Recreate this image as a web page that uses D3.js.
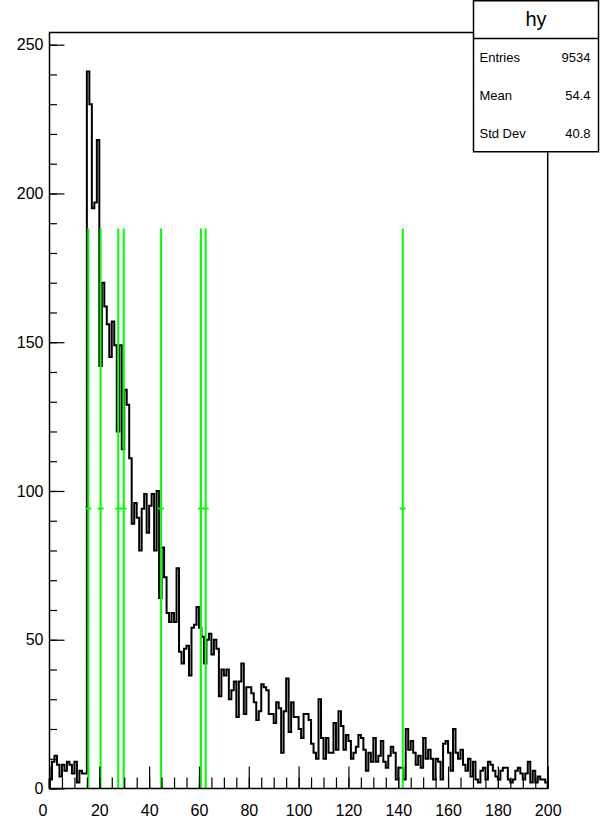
<!DOCTYPE html>
<html lang="en">
<head>
  <meta charset="UTF-8">
  <title>hy</title>
  <script src="https://d3js.org/d3.v7.min.js"></script>
  <style>
    body {
      margin: 0;
      background: #ffffff;
      font-family: "Liberation Sans", Arial, sans-serif;
    }

    .axis text {
      fill: #000;
      font-size: 16px;
    }

    .axis line {
      stroke: #000;
      stroke-width: 1.2;
    }

    .hist {
      fill: none;
      stroke: #000;
      stroke-width: 2;
    }

    .peak {
      stroke: #00ff00;
      stroke-width: 2;
    }
  </style>
</head>
<body>
  <script>
    // bin contents of hy, 200 bins of width 1 on [0, 200]
    const counts = [
      3, 9, 11, 8, 4, 8, 6, 9, 8, 5, 9, 2, 6, 5, 5,
      241, 230, 195, 197, 218, 142, 170, 162, 156, 145, 157, 149, 120, 149, 114, 134, 129, 111, 89,
      96, 91, 80, 94, 99, 86, 95, 99, 80, 100, 64, 81, 71,
      59, 56, 59, 56, 74, 46, 42, 47, 48, 38, 54, 55, 61, 54, 51, 42, 50, 52, 45, 50, 47, 31,
      40, 38, 40, 30, 33, 36, 24, 36, 42, 25, 34, 34, 32, 29, 23, 26, 35, 34, 33, 25,
      25, 22, 29, 27, 12, 26, 37, 19, 29, 24, 24, 20,
      17, 25, 25, 23, 15, 12, 10, 30, 17, 10, 17, 12, 12, 22, 13, 26, 21, 13, 18, 16,
      10, 12, 14, 18, 17, 13, 6, 12, 9, 17, 9, 11, 16, 9,
      7, 11, 14, 12, 3, 7, 7, 3, 20, 13, 16, 12, 8, 11, 7, 17, 10, 13, 10, 3,
      10, 9, 3, 15, 16, 12, 6, 20, 12, 10, 13, 8, 6, 10,
      4, 9, 3, 2, 6, 7, 3, 9, 8, 6, 4, 3, 6, 7, 7, 3, 2, 3, 6, 7,
      5, 3, 5, 9, 2, 6, 2, 4, 3, 3, 2
    ];
    const xMin = 0, xMax = 200;

    // green peak markers
    const peaksX = [15.6, 20.5, 27.6, 29.8, 44.8, 60.8, 62.7, 141.8];
    const peakY = 94.1;

    const xTicks = [0, 20, 40, 60, 80, 100, 120, 140, 160, 180, 200];
    const yTicks = [0, 50, 100, 150, 200, 250];

    const statsTitle = "hy";
    const statsNames = ["Entries", "Mean", "Std Dev"];
    const statsValues = ["9534", "54.4", "40.8"];

    const W = 608, H = 830;
    const frame = {left: 49.5, right: 547.7, top: 32.5, bottom: 788.5};
    const yMax = 254.1;

    const svg = d3.select("body").append("svg")
      .attr("width", W)
      .attr("height", H);

    svg.append("rect").attr("width", W).attr("height", H).attr("fill", "#fff");

    const x = d3.scaleLinear().domain([xMin, xMax]).range([frame.left, frame.right]);
    const y = d3.scaleLinear().domain([0, yMax]).range([frame.bottom, frame.top]);

    // histogram outline
    const binW = (xMax - xMin) / counts.length;
    const pts = [[xMin, 0]];
    counts.forEach((c, i) => {
      pts.push([xMin + i * binW, c]);
      pts.push([xMin + (i + 1) * binW, c]);
    });
    pts.push([xMax, 0]);

    svg.append("path")
      .datum(pts)
      .attr("class", "hist")
      .attr("d", d3.line().x(d => x(d[0])).y(d => y(d[1])));

    // peak lines
    const pk = svg.append("g");
    peaksX.forEach(p => {
      pk.append("line").attr("class", "peak")
        .attr("x1", x(p)).attr("x2", x(p))
        .attr("y1", y(0)).attr("y2", y(2 * peakY));
      pk.append("line").attr("class", "peak")
        .attr("x1", x(p) - 3).attr("x2", x(p) + 3)
        .attr("y1", y(peakY)).attr("y2", y(peakY))
        .attr("stroke-width", 1);
    });

    // axes
    const xMinor = d3.range(xMin, xMax + 1, 5);
    const yMinor = d3.range(0, yMax, 10);

    svg.append("g")
      .attr("class", "axis")
      .attr("transform", "translate(0," + frame.bottom + ")")
      .call(d3.axisBottom(x).tickValues(xMinor).tickSize(-11).tickFormat(""))
      .call(g => g.select(".domain").remove());

    svg.append("g")
      .attr("class", "axis")
      .attr("transform", "translate(0," + frame.bottom + ")")
      .call(d3.axisBottom(x).tickValues(xTicks).tickSize(-22).tickPadding(16))
      .call(g => g.select(".domain").remove())
      // the "0" label sits a little left of its tick, clear of the y axis 0
      .call(g => g.selectAll(".tick text").filter(d => d === 0).attr("dx", -7));

    svg.append("g")
      .attr("class", "axis")
      .attr("transform", "translate(" + frame.left + ",0)")
      .call(d3.axisLeft(y).tickValues(yMinor).tickSize(-7.5).tickFormat(""))
      .call(g => g.select(".domain").remove());

    svg.append("g")
      .attr("class", "axis")
      .attr("transform", "translate(" + frame.left + ",0)")
      .call(d3.axisLeft(y).tickValues(yTicks).tickSize(-15).tickPadding(6))
      .call(g => g.select(".domain").remove());

    // frame
    svg.append("rect")
      .attr("x", frame.left).attr("y", frame.top)
      .attr("width", frame.right - frame.left)
      .attr("height", frame.bottom - frame.top)
      .attr("fill", "none").attr("stroke", "#000").attr("stroke-width", 1.5);

    // stats box
    const box = {x: 473.5, y: 0.75, w: 125, h: 151, sep: 38.5};
    const st = svg.append("g");
    st.append("rect")
      .attr("x", box.x).attr("y", box.y).attr("width", box.w).attr("height", box.h)
      .attr("fill", "#fff").attr("stroke", "#000").attr("stroke-width", 1.5);
    st.append("line")
      .attr("x1", box.x).attr("x2", box.x + box.w)
      .attr("y1", box.sep).attr("y2", box.sep)
      .attr("stroke", "#000").attr("stroke-width", 1.5);
    st.append("text")
      .attr("x", box.x + box.w / 2).attr("y", 26)
      .attr("text-anchor", "middle").style("font-size", "20px")
      .text(statsTitle);
    statsNames.forEach((n, i) => {
      st.append("text")
        .attr("x", box.x + 6).attr("y", 61.5 + i * 38.2)
        .style("font-size", "13px").text(n);
      st.append("text")
        .attr("x", box.x + box.w - 8).attr("y", 61.5 + i * 38.2)
        .attr("text-anchor", "end").style("font-size", "13px").text(statsValues[i]);
    });
  </script>
</body>
</html>
